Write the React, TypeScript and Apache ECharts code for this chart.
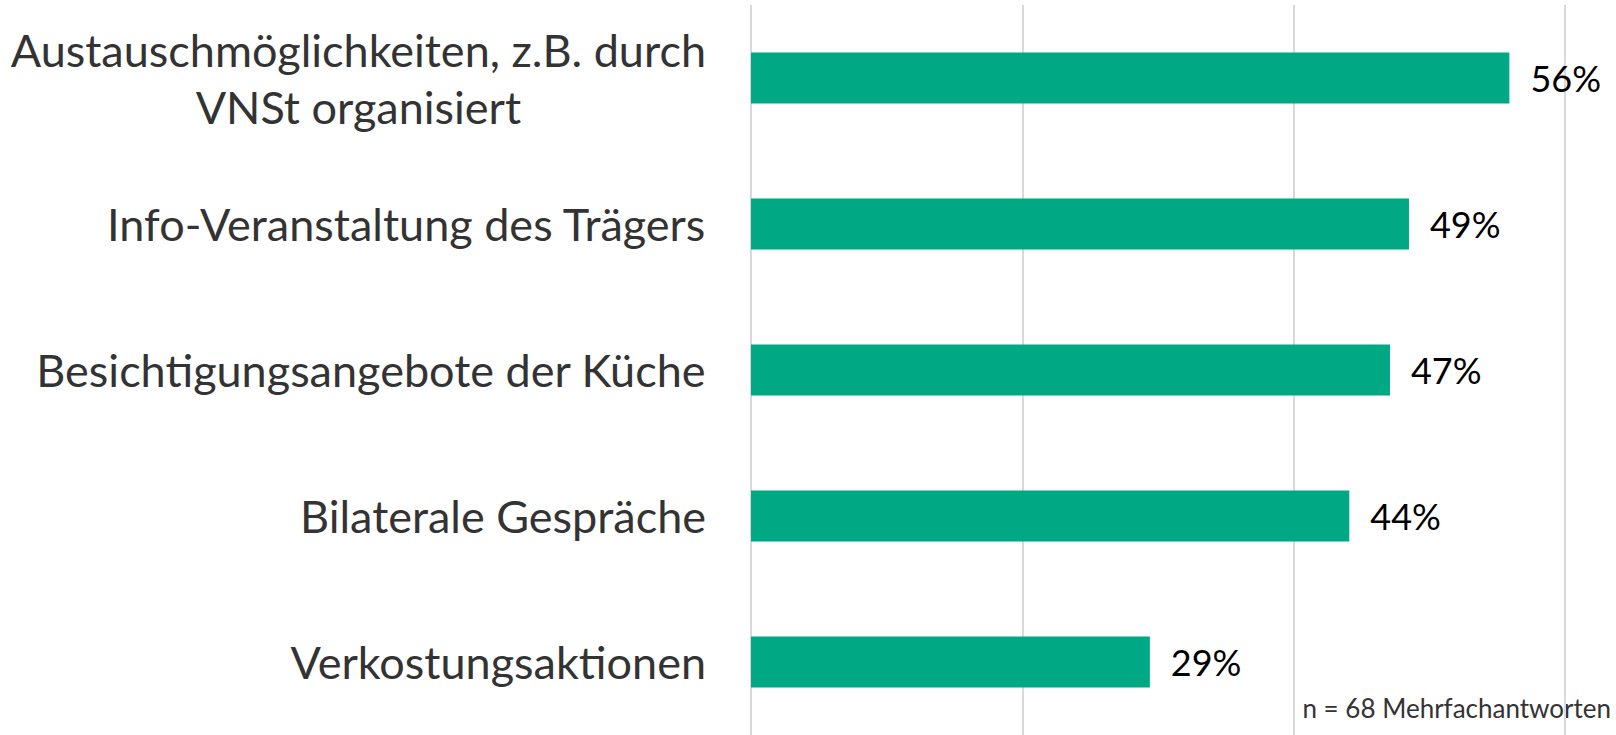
import React, { useEffect, useRef } from "react";
import * as echarts from "echarts";

const categories = [
  "Austauschmöglichkeiten, z.B. durch\nVNSt organisiert",
  "Info-Veranstaltung des Trägers",
  "Besichtigungsangebote der Küche",
  "Bilaterale Gespräche",
  "Verkostungsaktionen",
];
const values = [55.9, 48.5, 47.1, 44.1, 29.4];
const xTicks = { min: 0, max: 60, interval: 20 };
const footnote = "n = 68 Mehrfachantworten";

const FONT = "Lato, 'Open Sans', sans-serif";

export default function App() {
  const ref = useRef<HTMLDivElement>(null);
  useEffect(() => {
    if (!ref.current) return;
    const chart = echarts.init(ref.current, null, { renderer: "svg" });
    chart.setOption({
      animation: false,
      backgroundColor: "#ffffff",
      grid: { left: 751, right: 51, top: 5, height: 735, containLabel: false },
      xAxis: {
        type: "value",
        min: xTicks.min,
        max: xTicks.max,
        interval: xTicks.interval,
        axisLabel: { show: false },
        axisLine: { show: false },
        axisTick: { show: false },
        splitLine: { show: true, lineStyle: { color: "#d9d9d9", width: 2 } },
      },
      yAxis: {
        type: "category",
        inverse: true,
        data: categories,
        axisLine: { show: false },
        axisTick: { show: false },
        axisLabel: {
          margin: 45,
          align: "right",
          formatter: (v: string) =>
            v.split("\n").map((l) => `{c|${l}}`).join("\n"),
          rich: {
            c: {
              align: "center",
              fontFamily: FONT,
              fontSize: 45,
              color: "#333333",
              lineHeight: 57,
            },
          },
        },
      },
      series: [
        {
          type: "bar",
          data: values,
          barWidth: 51,
          itemStyle: { color: "#00a984" },
          label: {
            show: true,
            position: "right",
            distance: 21,
            formatter: (p: any) => `${Math.round(p.value)}%`,
            fontFamily: FONT,
            fontSize: 36,
            color: "#000000",
          },
        },
      ],
      graphic: [
        {
          type: "text",
          right: 5,
          top: 695,
          style: {
            text: footnote,
            fontFamily: FONT,
            fontSize: 26,
            fill: "#333333",
          },
        },
      ],
    });
    return () => chart.dispose();
  }, []);
  return (
    <div
      ref={ref}
      style={{ position: "absolute", left: 0, top: 0, width: 1616, height: 735 }}
    />
  );
}
